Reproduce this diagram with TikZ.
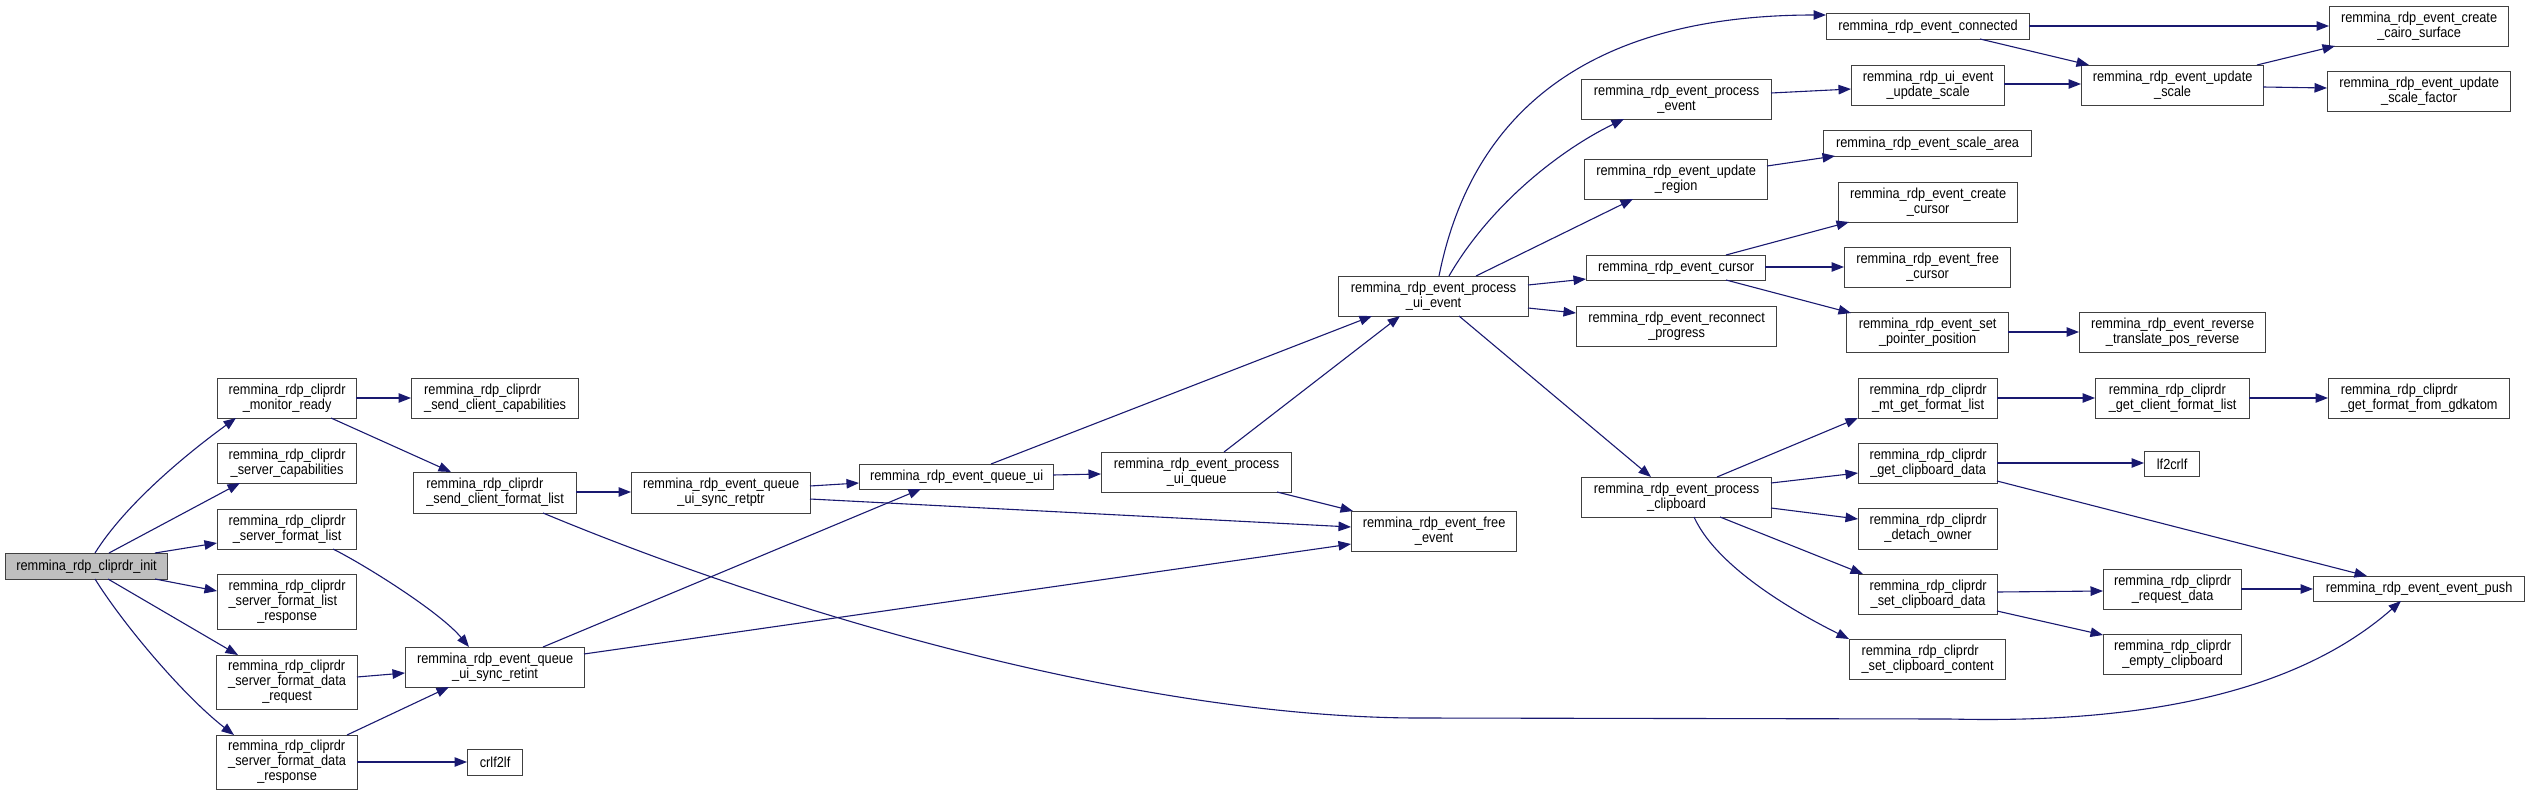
\documentclass[tikz,border=0pt]{standalone}
\usepackage{fontspec}
\setmainfont[FakeStretch=0.88]{Liberation Sans}
\usetikzlibrary{arrows.meta}
\definecolor{edgeblue}{HTML}{191970}
\definecolor{boxline}{HTML}{404040}
\definecolor{rootfill}{HTML}{BFBFBF}
\newcommand\twoL[2]{\begin{tabular}{@{}l@{}}#1\\\multicolumn{1}{@{}c@{}}{#2}\end{tabular}}
\newcommand\threeL[3]{\begin{tabular}{@{}l@{}}#1\\#2\\\multicolumn{1}{@{}c@{}}{#3}\end{tabular}}
\begin{document}
\begin{tikzpicture}[x=1pt,y=-1pt,
 box/.style={draw=boxline,line width=1.2pt,fill=white,inner sep=0pt,anchor=north west,font=\fontsize{14.5}{15}\selectfont},
 e/.style={draw=edgeblue,line width=1.1pt,-{Triangle[length=12.5pt,width=9.5pt]}}]
\path[use as bounding box] (0,0) rectangle (2529,795);

% nodes
\node[box,fill=rootfill,minimum width=162pt,minimum height=26pt] (init) at (5,553) {remmina\_rdp\_cliprdr\_init};
\node[box,minimum width=139pt,minimum height=40pt] (mon) at (217,378) {\twoL{remmina\_rdp\_cliprdr}{\_monitor\_ready}};
\node[box,minimum width=139pt,minimum height=40pt] (scap) at (217,443) {\twoL{remmina\_rdp\_cliprdr}{\_server\_capabilities}};
\node[box,minimum width=139pt,minimum height=40pt] (sfl) at (217,509) {\twoL{remmina\_rdp\_cliprdr}{\_server\_format\_list}};
\node[box,minimum width=139pt,minimum height=55pt] (sflr) at (217,574) {\threeL{remmina\_rdp\_cliprdr}{\_server\_format\_list}{\_response}};
\node[box,minimum width=141pt,minimum height=54pt] (sfdreq) at (216,655) {\threeL{remmina\_rdp\_cliprdr}{\_server\_format\_data}{\_request}};
\node[box,minimum width=141pt,minimum height=54pt] (sfdres) at (216,735) {\threeL{remmina\_rdp\_cliprdr}{\_server\_format\_data}{\_response}};
\node[box,minimum width=167pt,minimum height=40pt] (scc) at (411,378) {\twoL{remmina\_rdp\_cliprdr}{\_send\_client\_capabilities}};
\node[box,minimum width=163pt,minimum height=41pt] (scfl) at (413,472) {\twoL{remmina\_rdp\_cliprdr}{\_send\_client\_format\_list}};
\node[box,minimum width=179pt,minimum height=40pt] (retint) at (405,647) {\twoL{remmina\_rdp\_event\_queue}{\_ui\_sync\_retint}};
\node[box,minimum width=55pt,minimum height=26pt] (crlf) at (467,749) {crlf2lf};
\node[box,minimum width=179pt,minimum height=41pt] (retptr) at (631,472) {\twoL{remmina\_rdp\_event\_queue}{\_ui\_sync\_retptr}};
\node[box,minimum width=194pt,minimum height=25pt] (qui) at (859,464) {remmina\_rdp\_event\_queue\_ui};
\node[box,minimum width=190pt,minimum height=40pt] (pq) at (1101,452) {\twoL{remmina\_rdp\_event\_process}{\_ui\_queue}};
\node[box,minimum width=165pt,minimum height=40pt] (free) at (1351,511) {\twoL{remmina\_rdp\_event\_free}{\_event}};
\node[box,minimum width=190pt,minimum height=40pt] (pue) at (1338,276) {\twoL{remmina\_rdp\_event\_process}{\_ui\_event}};
\node[box,minimum width=203pt,minimum height=26pt] (conn) at (1826,13) {remmina\_rdp\_event\_connected};
\node[box,minimum width=190pt,minimum height=40pt] (pe) at (1581,79) {\twoL{remmina\_rdp\_event\_process}{\_event}};
\node[box,minimum width=153pt,minimum height=40pt] (uius) at (1851,65) {\twoL{remmina\_rdp\_ui\_event}{\_update\_scale}};
\node[box,minimum width=183pt,minimum height=40pt] (ureg) at (1584,159) {\twoL{remmina\_rdp\_event\_update}{\_region}};
\node[box,minimum width=208pt,minimum height=26pt] (sarea) at (1823,130) {remmina\_rdp\_event\_scale\_area};
\node[box,minimum width=179pt,minimum height=40pt] (ccur) at (1838,182) {\twoL{remmina\_rdp\_event\_create}{\_cursor}};
\node[box,minimum width=179pt,minimum height=25pt] (cur) at (1586,255) {remmina\_rdp\_event\_cursor};
\node[box,minimum width=166pt,minimum height=40pt] (fcur) at (1844,247) {\twoL{remmina\_rdp\_event\_free}{\_cursor}};
\node[box,minimum width=200pt,minimum height=40pt] (recon) at (1576,306) {\twoL{remmina\_rdp\_event\_reconnect}{\_progress}};
\node[box,minimum width=162pt,minimum height=40pt] (spp) at (1846,312) {\twoL{remmina\_rdp\_event\_set}{\_pointer\_position}};
\node[box,minimum width=186pt,minimum height=40pt] (rev) at (2079,312) {\twoL{remmina\_rdp\_event\_reverse}{\_translate\_pos\_reverse}};
\node[box,minimum width=179pt,minimum height=40pt] (cairo) at (2329,6) {\twoL{remmina\_rdp\_event\_create}{\_cairo\_surface}};
\node[box,minimum width=182pt,minimum height=40pt] (us) at (2081,65) {\twoL{remmina\_rdp\_event\_update}{\_scale}};
\node[box,minimum width=183pt,minimum height=40pt] (usf) at (2327,71) {\twoL{remmina\_rdp\_event\_update}{\_scale\_factor}};
\node[box,minimum width=190pt,minimum height=40pt] (pclip) at (1581,477) {\twoL{remmina\_rdp\_event\_process}{\_clipboard}};
\node[box,minimum width=139pt,minimum height=40pt] (mtg) at (1858,378) {\twoL{remmina\_rdp\_cliprdr}{\_mt\_get\_format\_list}};
\node[box,minimum width=154pt,minimum height=40pt] (gcfl) at (2095,378) {\twoL{remmina\_rdp\_cliprdr}{\_get\_client\_format\_list}};
\node[box,minimum width=181pt,minimum height=40pt] (gdk) at (2328,378) {\twoL{remmina\_rdp\_cliprdr}{\_get\_format\_from\_gdkatom}};
\node[box,minimum width=139pt,minimum height=40pt] (gcd) at (1858,443) {\twoL{remmina\_rdp\_cliprdr}{\_get\_clipboard\_data}};
\node[box,minimum width=55pt,minimum height=25pt] (lf) at (2144,451) {lf2crlf};
\node[box,minimum width=139pt,minimum height=41pt] (det) at (1858,508) {\twoL{remmina\_rdp\_cliprdr}{\_detach\_owner}};
\node[box,minimum width=139pt,minimum height=40pt] (scd) at (1858,574) {\twoL{remmina\_rdp\_cliprdr}{\_set\_clipboard\_data}};
\node[box,minimum width=156pt,minimum height=40pt] (scc2) at (1849,639) {\twoL{remmina\_rdp\_cliprdr}{\_set\_clipboard\_content}};
\node[box,minimum width=138pt,minimum height=40pt] (req) at (2103,569) {\twoL{remmina\_rdp\_cliprdr}{\_request\_data}};
\node[box,minimum width=138pt,minimum height=40pt] (empty) at (2103,634) {\twoL{remmina\_rdp\_cliprdr}{\_empty\_clipboard}};
\node[box,minimum width=211pt,minimum height=25pt] (push) at (2313,576) {remmina\_rdp\_event\_event\_push};

\coordinate (w1) at (1420,718);
\coordinate (w2) at (1950,719);

% edges
\draw[e] ([shift={(90,0)}]init.north west) .. controls +(30,-48) and +(-51,37) .. ([shift={(19,40)}]mon.north west);
\draw[e] ([shift={(104,0)}]init.north west) -- ([shift={(23,40)}]scap.north west);
\draw[e] ([shift={(150,0)}]init.north west) -- ([shift={(0,34)}]sfl.north west);
\draw[e] ([shift={(150,26)}]init.north west) -- ([shift={(0,17)}]sflr.north west);
\draw[e] ([shift={(103,26)}]init.north west) -- ([shift={(22,0)}]sfdreq.north west);
\draw[e] ([shift={(90,26)}]init.north west) .. controls +(30,48) and +(-49,-38) .. ([shift={(18,0)}]sfdres.north west);
\draw[e] ([shift={(139,20)}]mon.north west) -- ([shift={(0,20)}]scc.north west);
\draw[e] ([shift={(114,40)}]mon.north west) -- ([shift={(38,0)}]scfl.north west);
\draw[e] ([shift={(163,20)}]scfl.north west) -- ([shift={(0,20)}]retptr.north west);
\draw[e] ([shift={(116,40)}]sfl.north west) .. controls +(32,16) and +(-29,-35) .. ([shift={(64,0)}]retint.north west);
\draw[e] ([shift={(141,22)}]sfdreq.north west) -- ([shift={(0,26)}]retint.north west);
\draw[e] ([shift={(131,0)}]sfdres.north west) -- ([shift={(44,40)}]retint.north west);
\draw[e] ([shift={(141,27)}]sfdres.north west) -- ([shift={(0,13)}]crlf.north west);
\draw[e] ([shift={(138,0)}]retint.north west) -- ([shift={(62,25)}]qui.north west);
\draw[e] ([shift={(179,7)}]retint.north west) -- ([shift={(0,33)}]free.north west);
\draw[e] ([shift={(179,14)}]retptr.north west) -- ([shift={(0,19)}]qui.north west);
\draw[e] ([shift={(179,27)}]retptr.north west) -- ([shift={(0,16)}]free.north west);
\draw[e] ([shift={(194,11)}]qui.north west) -- ([shift={(0,22)}]pq.north west);
\draw[e] ([shift={(132,0)}]qui.north west) -- ([shift={(34,40)}]pue.north west);
\draw[e] ([shift={(123,0)}]pq.north west) -- ([shift={(62,40)}]pue.north west);
\draw[e] ([shift={(176,40)}]pq.north west) -- ([shift={(2,0)}]free.north west);
\draw[e] ([shift={(101,0)}]pue.north west) .. controls +(31,-156) and +(-246,0) .. ([shift={(0,2)}]conn.north west);
\draw[e] ([shift={(111,0)}]pue.north west) .. controls +(41,-71) and +(-64,31) .. ([shift={(43,40)}]pe.north west);
\draw[e] ([shift={(138,0)}]pue.north west) -- ([shift={(49,40)}]ureg.north west);
\draw[e] ([shift={(190,9)}]pue.north west) -- ([shift={(0,24)}]cur.north west);
\draw[e] ([shift={(190,32)}]pue.north west) -- ([shift={(0,7)}]recon.north west);
\draw[e] ([shift={(121,40)}]pue.north west) -- ([shift={(70,0)}]pclip.north west);
\draw[e] ([shift={(190,14)}]pe.north west) -- ([shift={(0,24)}]uius.north west);
\draw[e] ([shift={(183,7)}]ureg.north west) -- ([shift={(12,26)}]sarea.north west);
\draw[e] ([shift={(140,0)}]cur.north west) -- ([shift={(11,40)}]ccur.north west);
\draw[e] ([shift={(179,12)}]cur.north west) -- ([shift={(0,20)}]fcur.north west);
\draw[e] ([shift={(140,25)}]cur.north west) -- ([shift={(5,1)}]spp.north west);
\draw[e] ([shift={(162,20)}]spp.north west) -- ([shift={(0,20)}]rev.north west);
\draw[e] ([shift={(203,13)}]conn.north west) -- ([shift={(0,20)}]cairo.north west);
\draw[e] ([shift={(154,26)}]conn.north west) -- ([shift={(8,0)}]us.north west);
\draw[e] ([shift={(153,19)}]uius.north west) -- ([shift={(0,19)}]us.north west);
\draw[e] ([shift={(176,0)}]us.north west) -- ([shift={(6,40)}]cairo.north west);
\draw[e] ([shift={(182,22)}]us.north west) -- ([shift={(0,17)}]usf.north west);
\draw[e] ([shift={(136,0)}]pclip.north west) -- ([shift={(0,40)}]mtg.north west);
\draw[e] ([shift={(190,6)}]pclip.north west) -- ([shift={(0,30)}]gcd.north west);
\draw[e] ([shift={(190,31)}]pclip.north west) -- ([shift={(0,11)}]det.north west);
\draw[e] ([shift={(139,40)}]pclip.north west) -- ([shift={(5,0)}]scd.north west);
\draw[e] ([shift={(113,40)}]pclip.north west) .. controls +(25,55) and +(-40,-20) .. ([shift={(0,0)}]scc2.north west);
\draw[e] ([shift={(139,20)}]mtg.north west) -- ([shift={(0,20)}]gcfl.north west);
\draw[e] ([shift={(154,20)}]gcfl.north west) -- ([shift={(0,20)}]gdk.north west);
\draw[e] ([shift={(139,20)}]gcd.north west) -- ([shift={(0,12)}]lf.north west);
\draw[e] ([shift={(139,38)}]gcd.north west) -- ([shift={(54,0)}]push.north west);
\draw[e] ([shift={(139,18)}]scd.north west) -- ([shift={(0,22)}]req.north west);
\draw[e] ([shift={(139,37)}]scd.north west) -- ([shift={(0,1)}]empty.north west);
\draw[e] ([shift={(138,20)}]req.north west) -- ([shift={(0,13)}]push.north west);
\draw[e] ([shift={(130,41)}]scfl.north west) .. controls +(257,107) and +(-270,0) .. (w1) -- (w2) .. controls +(200,5) and +(-101,89) .. ([shift={(88,25)}]push.north west);
\end{tikzpicture}
\end{document}
